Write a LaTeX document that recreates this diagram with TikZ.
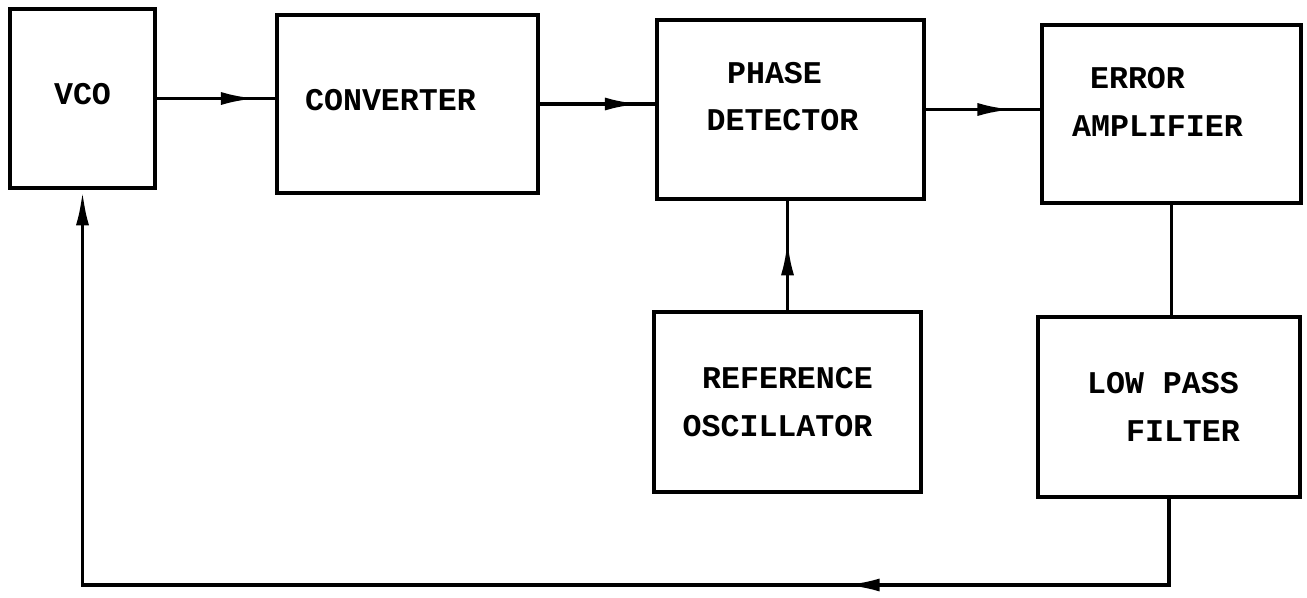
\documentclass[tikz,border=0pt]{standalone}
\usepackage{fontspec}
\setmonofont{Liberation Mono}
\usepackage{tikz}
\usetikzlibrary{arrows.meta,decorations.markings,calc,positioning}
\tikzset{
  block/.style={draw,line width=2.6pt,inner sep=0pt,align=center,
                font=\ttfamily\bfseries\fontsize{18}{27}\selectfont},
  wire/.style={line width=2.2pt},
  midtip/.style={postaction={decorate},decoration={markings,
                 mark=at position #1 with {\arrow{Latex[length=7mm,width=2.6mm]}}}}
}
\begin{document}
\begin{tikzpicture}
\useasboundingbox (0,0) rectangle (26.14,-11.94);
\node[block,minimum width=2.9cm,minimum height=3.58cm,text depth=0.2cm] (vco) at (1.65,-1.97) {VCO};
\node[block,minimum width=5.22cm,minimum height=3.56cm,text depth=0.16cm] (conv) at (8.15,-2.08) {CONVERTER\hspace*{0.68cm}};
\node[block,minimum width=5.34cm,minimum height=3.58cm,text depth=0.52cm] (pd) at (15.81,-2.19) {PHASE\hspace*{0.64cm}\\DETECTOR\hspace*{0.32cm}};
\node[block,minimum width=5.18cm,minimum height=3.56cm,text depth=0.48cm] (ea) at (23.43,-2.28) {ERROR\hspace*{1.36cm}\\AMPLIFIER\hspace*{0.56cm}};
\node[block,minimum width=5.34cm,minimum height=3.6cm] (ro) at (15.75,-8.04) {REFERENCE\\OSCILLATOR\hspace*{0.4cm}};
\node[block,minimum width=5.24cm,minimum height=3.6cm] (lpf) at (23.38,-8.14) {LOW PASS\hspace*{0.24cm}\\\hspace*{0.56cm}FILTER};
\coordinate (fbr) at ($(lpf.south |- 0,-11.7)$);
\coordinate (fbl) at ($(vco.south |- 0,-11.7)$);
\draw[wire,midtip=0.84] (vco.east) -- (conv.west |- vco.east);
\draw[wire,midtip=0.87] (conv.east) -- (pd.west |- conv.east);
\draw[wire,midtip=0.76] (pd.east) -- (ea.west |- pd.east);
\draw[wire,midtip=0.64] (ro.north) -- (ro.north |- pd.south);
\draw[wire] (ea.south) -- (ea.south |- lpf.north);
\draw[wire,midtip=8.2cm,-{Latex[length=7mm,width=2.6mm]}] (lpf.south) -- (fbr) -- (fbl) -- (vco.south);
\end{tikzpicture}
\end{document}
